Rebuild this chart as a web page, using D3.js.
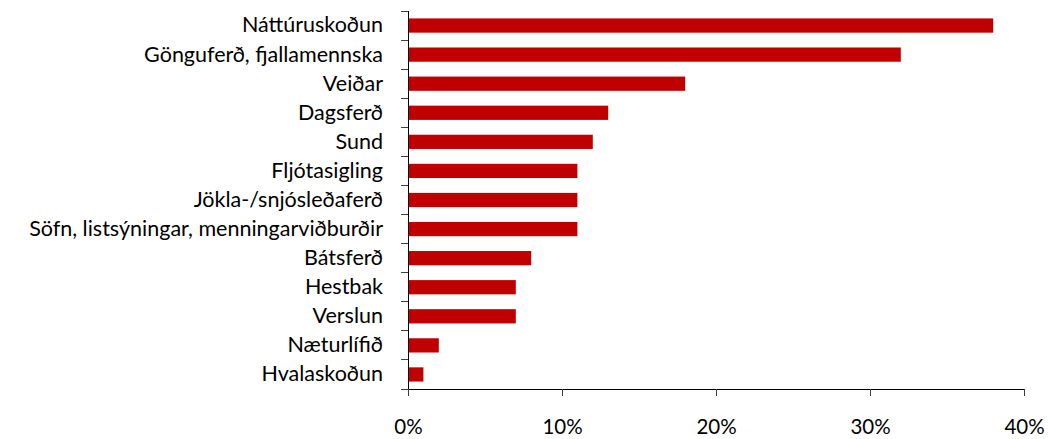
<!DOCTYPE html>
<html>
<head>
<meta charset="utf-8">
<script src="https://cdn.jsdelivr.net/npm/d3@7"></script>
<style>
    body { margin: 0; background: #fff; }
    svg { display: block; }
    text { font-family: Lato, "Open Sans", sans-serif; fill: #000; }
</style>
</head>
<body>
<div id="chart"></div>
<script>
const categories = ['Náttúruskoðun', 'Gönguferð, fjallamennska', 'Veiðar', 'Dagsferð', 'Sund',
    'Fljótasigling', 'Jökla-/snjósleðaferð', 'Söfn, listsýningar, menningarviðburðir',
    'Bátsferð', 'Hestbak', 'Verslun', 'Næturlífið', 'Hvalaskoðun'];
const values = [0.38, 0.32, 0.18, 0.13, 0.12, 0.11, 0.11, 0.11, 0.08, 0.07, 0.07, 0.02, 0.01];
const xTicks = [0, 0.1, 0.2, 0.3, 0.4];

const width = 1048, height = 439;
const barColor = '#c00000';

var svg = d3.select('#chart')
    .append('svg')
    .attr('width', width)
    .attr('height', height);

var x = d3.scaleLinear().domain([0, 0.4]).range([408, 1024]);
var y = d3.scaleBand().domain(categories).range([11, 389])
    .paddingInner(0.51).paddingOuter(0.255);

// bars
svg.append('g').selectAll('rect')
    .data(values)
    .enter().append('rect')
    .attr('x', x(0))
    .attr('y', function (d, i) { return y(categories[i]); })
    .attr('width', function (d) { return x(d) - x(0); })
    .attr('height', y.bandwidth())
    .attr('fill', barColor);

// x axis
var xAxis = svg.append('g')
    .attr('transform', 'translate(0,' + y.range()[1] + ')')
    .call(d3.axisBottom(x).tickValues(xTicks).tickSize(7).tickPadding(23)
        .tickFormat(d3.format('.0%')));
xAxis.select('.domain').attr('stroke', '#000').attr('shape-rendering', 'crispEdges');
xAxis.selectAll('.tick line').attr('stroke', '#404040').attr('shape-rendering', 'crispEdges');
xAxis.selectAll('text').attr('font-size', 20.5);

// y axis: labels at band centres, ticks between categories
var yAxis = svg.append('g')
    .attr('transform', 'translate(' + x(0) + ',0)')
    .call(d3.axisLeft(y).tickSize(0).tickPadding(25));
yAxis.select('.domain').remove();
yAxis.selectAll('text').attr('font-size', 21.5);

var gap = (y.step() - y.bandwidth()) / 2;
var bounds = categories.map(function (c) { return y(c) - gap; })
    .concat([y.range()[1]]);
svg.append('g').selectAll('line')
    .data(bounds)
    .enter().append('line')
    .attr('x1', x(0) - 7)
    .attr('x2', x(0))
    .attr('y1', function (d) { return d; })
    .attr('y2', function (d) { return d; })
    .attr('stroke', '#404040')
    .attr('shape-rendering', 'crispEdges');
svg.append('line')
    .attr('x1', x(0)).attr('x2', x(0))
    .attr('y1', y.range()[0]).attr('y2', y.range()[1])
    .attr('stroke', '#000')
    .attr('shape-rendering', 'crispEdges');
</script>
</body>
</html>
